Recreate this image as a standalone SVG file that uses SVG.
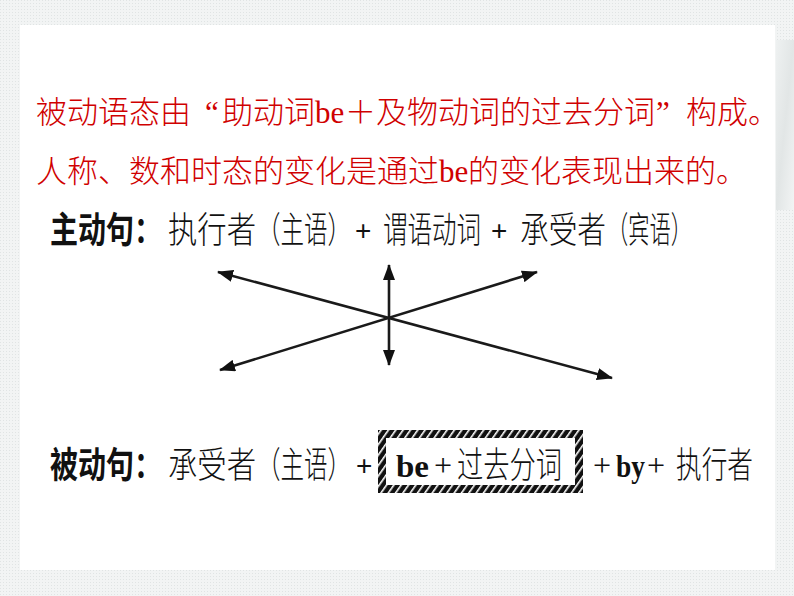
<svg xmlns="http://www.w3.org/2000/svg" width="794" height="596" viewBox="0 0 794 596">
<defs>
<style>
.red{font-family:"Noto Sans CJK SC","Liberation Serif",serif;font-size:31px;fill:#d00000;font-weight:300}
.lat{font-family:"Liberation Serif","Noto Sans CJK SC",serif;font-weight:normal}
.blk{font-family:"Noto Sans CJK SC","Liberation Sans",sans-serif;font-size:36px;fill:#111;font-weight:300}
.bold{font-weight:bold}
.plus{font-family:"Liberation Sans",sans-serif;font-size:28px}
.ser{font-family:"Liberation Serif","Noto Sans CJK SC",serif;font-size:32px}
.arr{stroke:#1a1a1a;stroke-width:2.6;fill:none}
</style>
<pattern id="dots" width="3" height="3" patternUnits="userSpaceOnUse">
<rect width="3" height="3" fill="#f2f4f4"/>
<rect width="1" height="1" fill="#e0e4e4"/>
</pattern>
<pattern id="hatch" width="6" height="6" patternUnits="userSpaceOnUse" patternTransform="rotate(35)">
<rect width="6" height="6" fill="#111"/>
<rect width="1.6" height="6" fill="#fff"/>
</pattern>
<linearGradient id="deco" x1="0" y1="0" x2="1" y2="1">
<stop offset="0" stop-color="#eef1f1"/>
<stop offset="0.5" stop-color="#e2e6e6"/>
<stop offset="1" stop-color="#f2f4f4"/>
</linearGradient>
<marker id="ah" viewBox="0 0 16 12" refX="15" refY="6" markerWidth="16" markerHeight="12" markerUnits="userSpaceOnUse" orient="auto-start-reverse">
<path d="M0,0 L16,6 L0,12 Z" fill="#111"/>
</marker>
</defs>
<rect width="794" height="596" fill="url(#dots)"/>
<rect x="776" y="40" width="18" height="170" fill="url(#deco)"/>
<rect x="20" y="25" width="755" height="545" fill="#fff"/>

<g id="intro">
<text class="red" y="123"><tspan x="36">被动语态由</tspan><tspan class="lat" x="205">“</tspan><tspan x="222">助动词</tspan><tspan class="lat" x="315">be</tspan><tspan x="345">＋及物动词的过去分词</tspan><tspan class="lat" x="656">”</tspan><tspan x="686">构成。</tspan></text>
<text class="red" y="182"><tspan x="36">人称、数和时态的变化是通过</tspan><tspan class="lat" x="439">be</tspan><tspan x="468">的变化表现出来的。</tspan></text>
</g>

<g id="active">
<text class="blk" y="243"><tspan class="bold" x="50" textLength="112" lengthAdjust="spacingAndGlyphs">主动句：</tspan><tspan x="168" textLength="88" lengthAdjust="spacingAndGlyphs">执行者</tspan><tspan x="257" textLength="94" lengthAdjust="spacingAndGlyphs">（主语）</tspan><tspan class="plus" x="355" dy="-3">+</tspan><tspan x="383" dy="3" textLength="98" lengthAdjust="spacingAndGlyphs">谓语动词</tspan><tspan class="plus" x="491" dy="-3">+</tspan><tspan x="520" dy="3" textLength="86" lengthAdjust="spacingAndGlyphs">承受者</tspan><tspan x="607" textLength="85" lengthAdjust="spacingAndGlyphs">（宾语）</tspan></text>
</g>

<g id="connectors">
<line class="arr" x1="218" y1="272" x2="612" y2="378" marker-start="url(#ah)" marker-end="url(#ah)"/>
<line class="arr" x1="220" y1="370" x2="537" y2="272" marker-start="url(#ah)" marker-end="url(#ah)"/>
<line class="arr" x1="389" y1="265" x2="389" y2="365" marker-start="url(#ah)" marker-end="url(#ah)"/>
</g>

<g id="passive">
<text class="blk" y="478"><tspan class="bold" x="50" textLength="112" lengthAdjust="spacingAndGlyphs">被动句：</tspan><tspan x="168" textLength="88" lengthAdjust="spacingAndGlyphs">承受者</tspan><tspan x="257" textLength="94" lengthAdjust="spacingAndGlyphs">（主语）</tspan><tspan class="plus" x="356" dy="-3">+</tspan></text>
</g>

<g id="box">
<path d="M378,430 H583 V493 H378 Z M386,438 V485 H575 V438 Z" fill="url(#hatch)" fill-rule="evenodd"/>
<text class="blk" y="477"><tspan class="ser bold" x="396" textLength="33" lengthAdjust="spacingAndGlyphs">be</tspan><tspan class="ser" x="434" dy="-1">+</tspan><tspan x="457" dy="2" textLength="105" lengthAdjust="spacingAndGlyphs">过去分词</tspan></text>
</g>

<g id="agent">
<text class="blk" y="476"><tspan class="ser" x="593">+</tspan><tspan class="ser bold" x="616" dy="1" textLength="29" lengthAdjust="spacingAndGlyphs">by</tspan><tspan class="ser" x="647" dy="-1">+</tspan><tspan x="676" dy="2" textLength="77" lengthAdjust="spacingAndGlyphs">执行者</tspan></text>
</g>
</svg>
